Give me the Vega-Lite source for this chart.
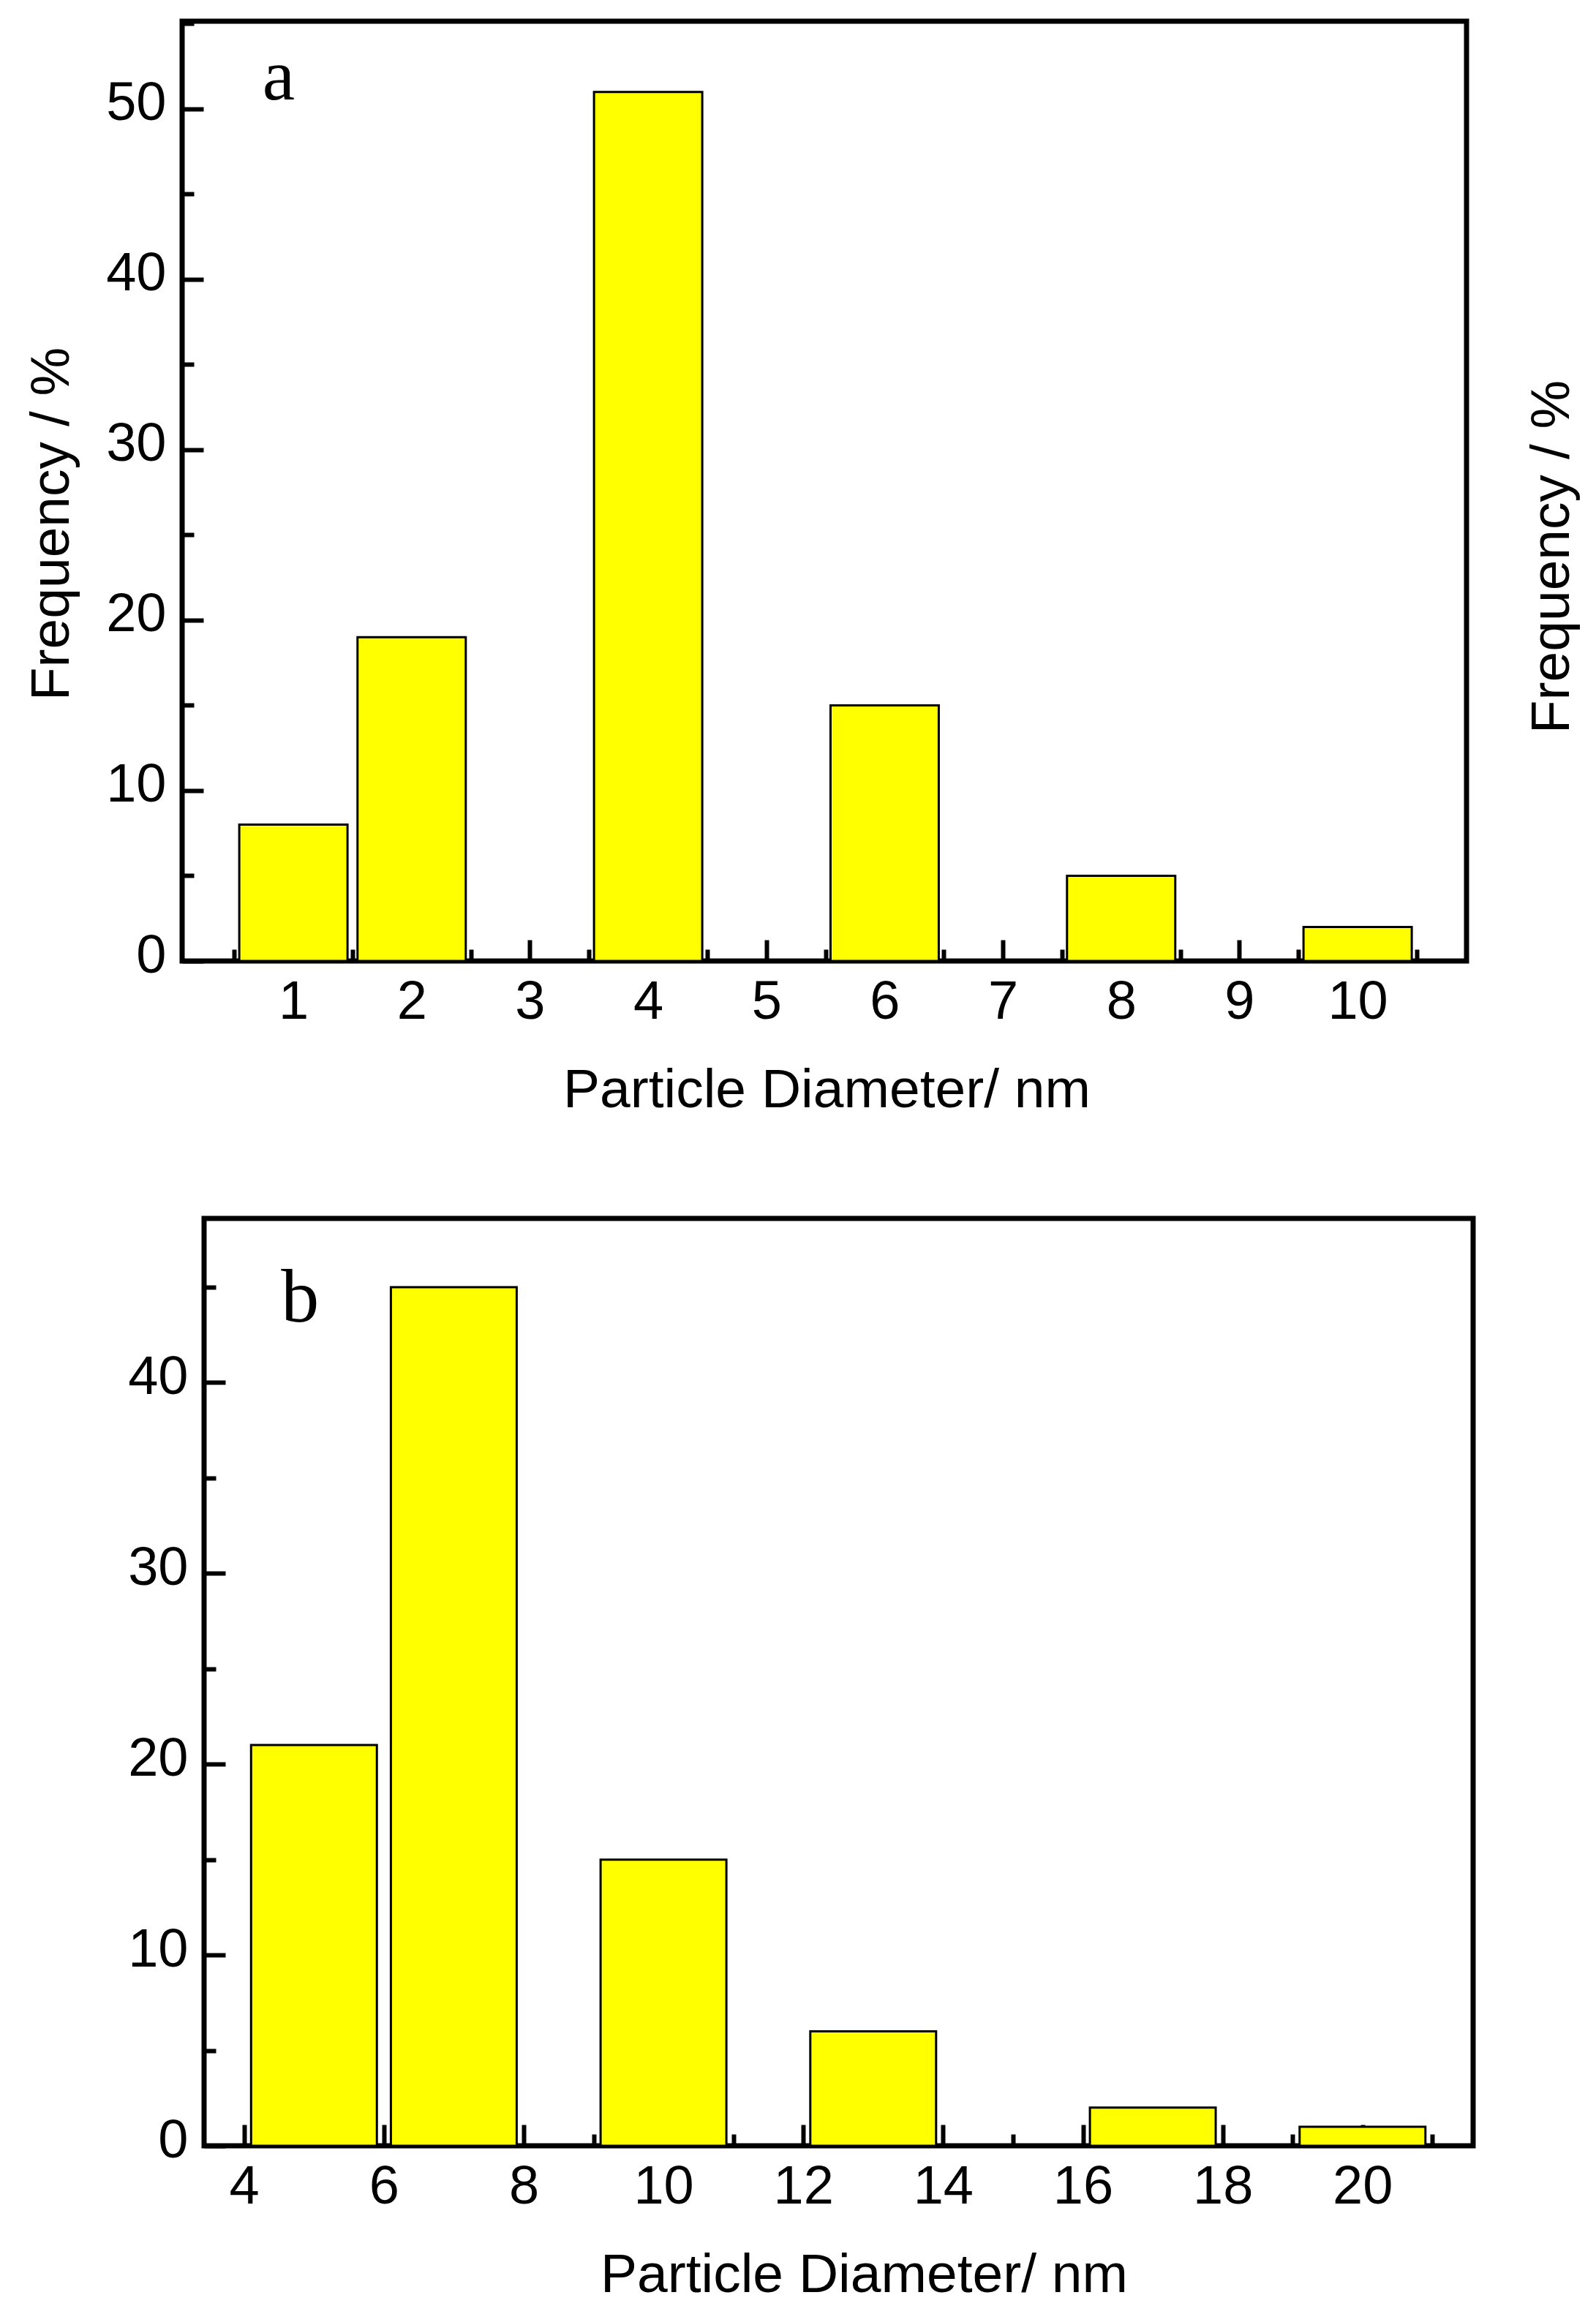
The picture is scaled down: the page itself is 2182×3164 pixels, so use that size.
{
  "$schema": "https://vega.github.io/schema/vega-lite/v6.json",
  "background": "white",
  "padding": {"left": 29, "top": 25, "right": 40, "bottom": 0},
  "config": {
    "view": {"stroke": "black", "strokeWidth": 7},
    "font": "Liberation Sans",
    "axis": {
      "domain": false, "grid": false, "ticks": true, "tickColor": "black", "tickWidth": 6,
      "labelFont": "Liberation Sans", "labelFontSize": 74, "labelColor": "black",
      "labelFlush": false, "labelOverlap": false,
      "titleFont": "Liberation Sans", "titleFontSize": 75, "titleFontWeight": "normal", "titleColor": "black",
      "zindex": 1
    }
  },
  "bounds": "flush",
  "spacing": 352,
  "vconcat": [
    {
      "width": 1756, "height": 1285,
      "title": {"text": "Frequency / %", "orient": "right", "frame": "group", "anchor": "middle", "angle": 270, "baseline": "top", "offset": 6, "dx": -90, "fontSize": 75, "font": "Liberation Sans", "fontWeight": "normal", "color": "black"},
      "data": {"values": [
        {"d": 1, "f": 8}, {"d": 2, "f": 19}, {"d": 4, "f": 51},
        {"d": 6, "f": 15}, {"d": 8, "f": 5}, {"d": 10, "f": 2}
      ]},
      "layer": [
        {
          "mark": {"type": "bar", "width": 148, "fill": "#FFFF00", "stroke": "black", "strokeWidth": 3},
          "encoding": {
            "x": {"field": "d", "type": "quantitative", "scale": {"domain": [0.09, 10.89], "nice": false, "zero": false},
              "axis": {"orient": "bottom", "values": [1,2,3,4,5,6,7,8,9,10], "tickSize": -29, "labelPadding": 49,
                "title": "Particle Diameter/ nm", "titleX": 881, "titleY": 199, "titleBaseline": "alphabetic", "titleAlign": "center"}},
            "y": {"field": "f", "type": "quantitative", "scale": {"domain": [0, 55.15], "nice": false, "zero": false},
              "axis": {"orient": "left", "values": [0,10,20,30,40,50], "tickSize": -29, "labelPadding": 51, "labelOffset": -7,
                "title": "Frequency / %", "titleX": -156, "titleY": 687, "titleAngle": 270, "titleBaseline": "alphabetic", "titleAlign": "center"}}
          }
        },
        {
          "data": {"values": [{"lab": "a", "lx": 0.875, "ly": 50.56}]},
          "mark": {"type": "text", "font": "Liberation Serif", "fontSize": 100, "baseline": "alphabetic", "align": "center", "color": "black"},
          "encoding": {
            "x": {"field": "lx", "type": "quantitative", "scale": {"domain": [0.09, 10.89], "nice": false, "zero": false},
              "axis": {"orient": "bottom", "values": [0.5,1.5,2.5,3.5,4.5,5.5,6.5,7.5,8.5,9.5,10.5], "tickSize": -16, "labels": false, "title": null}},
            "y": {"field": "ly", "type": "quantitative", "scale": {"domain": [0, 55.15], "nice": false, "zero": false},
              "axis": {"orient": "left", "values": [5,15,25,35,45,55], "tickSize": -16, "labels": false, "title": null}},
            "text": {"field": "lab"}
          }
        }
      ],
      "resolve": {"axis": {"x": "independent", "y": "independent"}}
    },
    {
      "bounds": "flush",
      "spacing": 29,
      "hconcat": [
        {"width": 1, "height": 1, "view": {"stroke": null}, "data": {"values": []}, "mark": "point"},
        {
          "width": 1735, "height": 1268,
          "data": {"values": [
            {"d": 5, "f": 21}, {"d": 7, "f": 45}, {"d": 10, "f": 15},
            {"d": 13, "f": 6}, {"d": 17, "f": 2}, {"d": 20, "f": 1}
          ]},
          "layer": [
            {
              "mark": {"type": "bar", "width": 172, "fill": "#FFFF00", "stroke": "black", "strokeWidth": 3},
              "encoding": {
                "x": {"field": "d", "type": "quantitative", "scale": {"domain": [3.48, 21.53], "nice": false, "zero": false},
                  "axis": {"orient": "bottom", "values": [4,6,8,10,12,14,16,18,20], "tickSize": -29, "labelPadding": 49,
                    "title": "Particle Diameter/ nm", "titleX": 902, "titleY": 199, "titleBaseline": "alphabetic", "titleAlign": "center"}},
                "y": {"field": "f", "type": "quantitative", "scale": {"domain": [0, 48.6], "nice": false, "zero": false},
                  "axis": {"orient": "left", "values": [0,10,20,30,40], "tickSize": -29, "labelPadding": 51, "labelOffset": -7, "title": null}}
              }
            },
            {
              "data": {"values": [{"lab": "b", "lx": 4.8, "ly": 43.2}]},
              "mark": {"type": "text", "font": "Liberation Serif", "fontSize": 104, "baseline": "alphabetic", "align": "center", "color": "black"},
              "encoding": {
                "x": {"field": "lx", "type": "quantitative", "scale": {"domain": [3.48, 21.53], "nice": false, "zero": false},
                  "axis": {"orient": "bottom", "values": [5,7,9,11,13,15,17,19,21], "tickSize": -16, "labels": false, "title": null}},
                "y": {"field": "ly", "type": "quantitative", "scale": {"domain": [0, 48.6], "nice": false, "zero": false},
                  "axis": {"orient": "left", "values": [5,15,25,35,45], "tickSize": -16, "labels": false, "title": null}},
                "text": {"field": "lab"}
              }
            }
          ],
          "resolve": {"axis": {"x": "independent", "y": "independent"}}
        }
      ]
    }
  ]
}
